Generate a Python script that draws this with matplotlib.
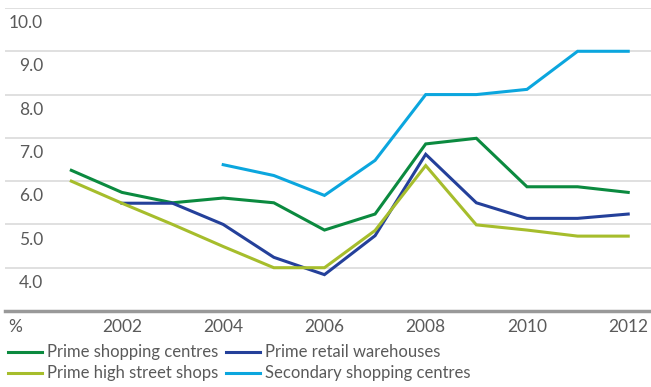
import matplotlib.pyplot as plt
from matplotlib.lines import Line2D

years = list(range(2001, 2013))
prime_centres = [6.25, 5.74, 5.5, 5.61, 5.5, 4.87, 5.24, 6.86, 6.99, 5.87, 5.87, 5.74]
prime_warehouses = [None, 5.49, 5.49, 5.0, 4.24, 3.84, 4.74, 6.62, 5.5, 5.14, 5.14, 5.24]
prime_high_street = [6.0, 5.49, 5.0, 4.49, 4.0, 4.0, 4.86, 6.36, 4.99, 4.87, 4.73, 4.73]
secondary_centres = [None, None, None, 6.38, 6.13, 5.67, 6.48, 8.0, 8.0, 8.12, 9.0, 9.0]

series_names = ["Prime shopping centres", "Prime retail warehouses",
                "Prime high street shops", "Secondary shopping centres"]
colors = ["#0b8a3f", "#24409a", "#a6bd2c", "#0ba6de"]
y_ticks = [4.0, 5.0, 6.0, 7.0, 8.0, 9.0, 10.0]
x_ticks = [2002, 2004, 2006, 2008, 2010, 2012]

plt.rcParams["font.family"] = ["Lato", "DejaVu Sans"]
text_color = "#5a5a5a"

fig = plt.figure(figsize=(6.51, 3.87), dpi=100)
ax = fig.add_axes([5 / 651, 76 / 387, 646 / 651, 303 / 387])

for vals, c in zip([prime_centres, prime_warehouses, prime_high_street, secondary_centres], colors):
    pts = [(y, v) for y, v in zip(years, vals) if v is not None]
    ax.plot([p[0] for p in pts], [p[1] for p in pts], color=c, lw=2.2,
            solid_joinstyle="miter", zorder=3)

ax.set_xlim(1999.69, 2012.45)
ax.set_ylim(3.0, 10.0)

for v in y_ticks:
    ax.axhline(v, color="#dddddd", lw=1.3, zorder=1)
    ax.text(0.059, v - 0.35, "%.1f" % v, transform=ax.get_yaxis_transform(),
            ha="right", va="center", fontsize=12.5, color=text_color)

ax.set_yticks([])
ax.set_xticks(x_ticks)
ax.set_xticklabels([str(x) for x in x_ticks])
ax.tick_params(axis="x", length=0, pad=6, labelsize=12.5, labelcolor=text_color)
for s in ["top", "right", "left"]:
    ax.spines[s].set_visible(False)
ax.spines["bottom"].set_color("#999999")
ax.spines["bottom"].set_linewidth(2.5)

fig.text(15 / 651, 1 - 327 / 387, "%", ha="center", va="center",
         fontsize=12.5, color=text_color)

handles = [Line2D([], [], color=c, lw=2.2) for c in colors]
order = [0, 2, 1, 3]
leg = fig.legend([handles[i] for i in order], [series_names[i] for i in order],
                 ncol=2, loc="upper left", bbox_to_anchor=(5 / 651, 1 - 341 / 387),
                 frameon=False, fontsize=12, handlelength=2.0, handletextpad=0.3,
                 columnspacing=0.5, labelspacing=0.3, borderaxespad=0, borderpad=0.2)
for t in leg.get_texts():
    t.set_color(text_color)

fig.savefig("out.png", dpi=100)
